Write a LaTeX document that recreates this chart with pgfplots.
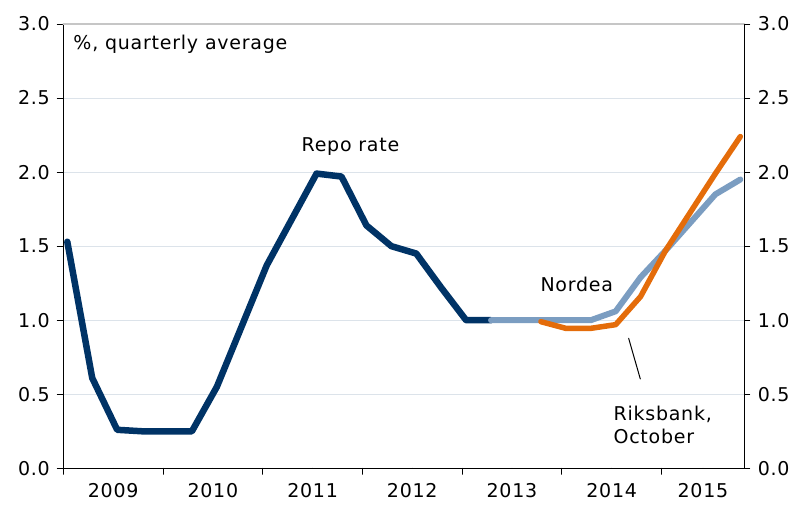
\documentclass[border=0pt]{standalone}
\usepackage{pgfplots}
\pgfplotsset{compat=1.18}
\usepackage{fontspec}
\setmainfont[LetterSpace=4]{DejaVu Sans}
\definecolor{navy}{HTML}{003366}
\definecolor{nordea}{HTML}{7B9DC1}
\definecolor{riks}{HTML}{E46C0A}
\definecolor{gridc}{HTML}{DCE3EA}
\pgfplotsset{
  common/.style={
    at={(63.3pt,35.7pt)}, anchor=south west,
    scale only axis, width=681pt, height=444.3pt,
    xmin=2009, xmax=2015.83, ymin=0, ymax=3,
    font=\fontsize{19}{23}\selectfont,
    /pgf/number format/assume math mode=true,
    tick align=outside,
    major tick length=6pt,
    axis line style={black, line width=1pt},
    every tick/.style={black, line width=0.8pt},
    ytick={0,0.5,...,3},
    yticklabel style={/pgf/number format/fixed, /pgf/number format/fixed zerofill, /pgf/number format/precision=1},
  }
}
\begin{document}
\begin{tikzpicture}[x=1pt,y=1pt]
\useasboundingbox (0,0) rectangle (794,504);
\begin{axis}[common,
  axis x line*=bottom, axis y line*=left,
  ymajorgrids, major grid style={gridc, line width=0.8pt},
  xtick={2009,2010,...,2015}, xticklabels={},
  extra x ticks={2009.5,2010.5,2011.5,2012.5,2013.5,2014.5,2015.415},
  extra x tick labels={2009,2010,2011,2012,2013,2014,2015},
  extra x tick style={major tick length=0pt, grid=none},
  xticklabel style={yshift=-12pt},
  yticklabel style={xshift=-4pt},
  clip=false,
  line cap=round, line join=round,
]
\draw[gray!45, line width=1.5pt] (rel axis cs:0,1) -- (rel axis cs:1,1);
\addplot[navy, line width=6.5pt] coordinates {
(2009.04,1.53) (2009.29,0.61) (2009.54,0.26) (2009.79,0.25)
(2010.04,0.25) (2010.29,0.25) (2010.54,0.55) (2010.79,0.96)
(2011.04,1.37) (2011.29,1.68) (2011.54,1.99) (2011.79,1.97)
(2012.04,1.64) (2012.29,1.50) (2012.54,1.45) (2012.79,1.22)
(2013.04,1.00) (2013.29,1.00)
};
\addplot[nordea, line width=6pt] coordinates {
(2013.29,1.00) (2013.54,1.00) (2013.79,1.00) (2014.04,1.00)
(2014.29,1.00) (2014.54,1.06) (2014.79,1.29) (2015.04,1.47)
(2015.29,1.66) (2015.54,1.85) (2015.79,1.95)
};
\addplot[riks, line width=5.5pt] coordinates {
(2013.79,0.99) (2014.04,0.945) (2014.29,0.945) (2014.54,0.97)
(2014.79,1.16) (2015.04,1.47) (2015.29,1.73) (2015.54,1.99)
(2015.79,2.24)
};
\node[anchor=west, inner sep=0pt] at (axis cs:2009.1,2.865) {\%, quarterly average};
\node[inner sep=0pt] at (axis cs:2011.88,2.17) {Repo rate};
\node[inner sep=0pt] at (axis cs:2014.15,1.245) {Nordea};
\node[anchor=west, align=left, inner sep=0pt] at (axis cs:2014.517,0.296) {Riksbank,\\October};
\draw[black, line width=1pt] (axis cs:2014.67,0.878) -- (axis cs:2014.787,0.603);
\end{axis}
\begin{axis}[common,
  axis x line=none, axis y line*=right,
  yticklabel style={xshift=4pt},
]
\end{axis}
\end{tikzpicture}
\end{document}
